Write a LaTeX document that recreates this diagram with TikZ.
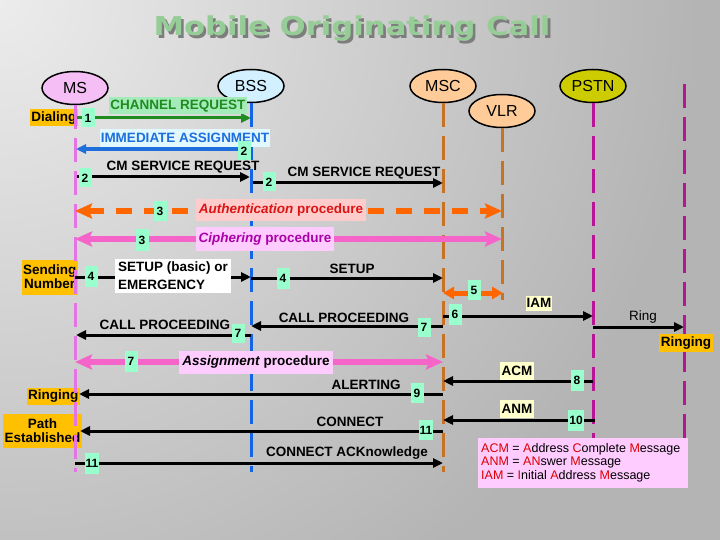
\documentclass[tikz,border=0pt]{standalone}
\usepackage{fontspec}
\setmainfont{Liberation Sans}
\newfontfamily\titlefont{DejaVu Sans}
\usetikzlibrary{arrows.meta,shapes.geometric}
\definecolor{bgA}{RGB}{236,236,236}
\definecolor{bgB}{RGB}{180,180,180}
\definecolor{mint}{RGB}{153,255,204}
\definecolor{msfill}{RGB}{245,190,245}
\definecolor{bssfill}{RGB}{210,240,255}
\definecolor{mscfill}{RGB}{255,204,153}
\definecolor{pstnfill}{RGB}{204,204,0}
\definecolor{msline}{RGB}{230,115,230}
\definecolor{bssline}{RGB}{20,100,230}
\definecolor{mscline}{RGB}{200,115,35}
\definecolor{pstnline}{RGB}{185,20,150}
\definecolor{orangearr}{RGB}{255,102,0}
\definecolor{pinkarr}{RGB}{245,100,200}
\definecolor{gold}{RGB}{255,192,0}
\definecolor{chgreen}{RGB}{30,140,30}
\definecolor{chbg}{RGB}{165,235,185}
\definecolor{iablue}{RGB}{30,110,220}
\definecolor{iabg}{RGB}{225,248,255}
\definecolor{authred}{RGB}{220,20,20}
\definecolor{authbg}{RGB}{255,204,204}
\definecolor{ciphbg}{RGB}{255,204,255}
\definecolor{ciphtxt}{RGB}{170,0,170}
\definecolor{paleyel}{RGB}{255,255,204}
\definecolor{titlegreen}{RGB}{150,205,150}
\definecolor{titleshadow}{RGB}{125,125,125}
\definecolor{legred}{RGB}{220,0,0}
\begin{document}
\begin{tikzpicture}[x=1pt,y=-1pt,
  ent/.style={ellipse, draw=black, line width=1.5pt, minimum width=66pt, minimum height=33pt, inner sep=0pt, font=\fontsize{16}{18}\selectfont},
  life/.style={line width=3pt, dash pattern=on 24pt off 9pt},
  msg/.style={line width=3pt, -{Triangle[length=10pt,width=9pt]}},
  thickarr/.style={line width=5.5pt, {Stealth[length=17pt,width=15pt,inset=3pt]}-{Stealth[length=17pt,width=15pt,inset=3pt]}},
  lbl/.style={font=\bfseries\fontsize{13.5}{16}\selectfont, inner sep=1pt},
  num/.style={fill=mint, font=\bfseries\fontsize{12}{14}\selectfont, minimum width=13pt, minimum height=19pt, inner sep=1pt},
  goldlbl/.style={fill=gold, font=\bfseries\fontsize{13.5}{16}\selectfont, inner sep=1.5pt, align=center}]
\useasboundingbox (0,0) rectangle (720,540);
% background
\fill[bgB] (0,0) rectangle (720,540);
\begin{scope}
  \clip (0,0) rectangle (720,540);
  \shade[inner color=bgA, outer color=bgB] (0,0) circle (700pt);
\end{scope}
% title with drop shadow
\node[font=\titlefont\bfseries\fontsize{26}{30}\selectfont, xscale=1.18] (title) at (352,30)
  {\rlap{\hspace{2.2pt}\raisebox{-2.5pt}{\textcolor{titleshadow}{Mobile Originating Call}}}\textcolor{titlegreen}{Mobile Originating Call}};
% entities
\node[ent, fill=msfill] (MS) at (75,88) {MS};
\node[ent, fill=bssfill] (BSS) at (251,86) {BSS};
\node[ent, fill=mscfill] (MSC) at (443,86) {MSC};
\node[ent, fill=mscfill] (VLR) at (502,111) {VLR};
\node[ent, fill=pstnfill] (PSTN) at (593,86) {PSTN};
\coordinate (EXT) at (684,84);
% gold state labels
\node[goldlbl, anchor=east, minimum height=17pt] (dial) at (78,118) {Dialing};
\node[goldlbl, anchor=east, minimum height=35pt] (send) at (78,277) {Sending\\[-2pt]Number};
\node[goldlbl, anchor=east, minimum height=17pt] (ringL) at (80,396) {Ringing};
\node[goldlbl, anchor=east, minimum height=34pt] (path) at (82,431) {Path\\[-2pt]Established};
% lifelines
\draw[life, msline] (MS.south) -- (MS |- 0,472);
\draw[life, bssline] (BSS.south) -- (BSS |- 0,472);
\draw[life, mscline] (MSC.south) -- (MSC |- 0,472);
\draw[life, mscline] (VLR.south) -- (VLR |- 0,300);
\draw[life, pstnline] (PSTN.south) -- (PSTN |- 0,440);
\draw[life, pstnline] (EXT) -- (EXT |- 0,440);
% messages
\draw[msg, chgreen] ([xshift=2pt]MS |- 0,118) -- (BSS |- 0,118);
\draw[msg, iablue, line width=4pt] (BSS |- 0,149) -- ([xshift=1pt]MS |- 0,149);
\draw[msg] ([xshift=2pt]MS |- 0,177) -- ([xshift=-1pt]BSS |- 0,177);
\draw[msg] ([xshift=2pt]BSS |- 0,183) -- (MSC |- 0,183);
\draw[thickarr, orangearr, dash pattern=on 16pt off 12pt] (MS |- 0,211) -- (VLR |- 0,211);
\draw[thickarr, pinkarr] (MS |- 0,239) -- (VLR |- 0,239);
\draw[msg] (MS |- 0,277) -- (BSS |- 0,277);
\draw[msg] (BSS |- 0,278) -- (MSC |- 0,278);
\draw[orangearr, line width=5pt, {Triangle[length=11pt,width=12pt]}-{Triangle[length=11pt,width=12pt]}] (MSC |- 0,293) -- ([xshift=1pt]VLR |- 0,293);
\draw[msg] (MSC |- 0,316) -- (PSTN |- 0,316);
\draw[msg] (PSTN |- 0,327) -- (EXT |- 0,327);
\draw[msg] (MSC |- 0,326) -- (BSS |- 0,326);
\draw[msg] (BSS |- 0,335) -- ([xshift=1pt]MS |- 0,335);
\draw[thickarr, pinkarr] (MS |- 0,362) -- (MSC |- 0,362);
\draw[msg] (PSTN |- 0,381) -- (MSC |- 0,381);
\draw[msg] (MSC |- 0,394) -- ([xshift=4pt]MS |- 0,394);
\draw[msg] ([xshift=2pt]PSTN |- 0,420) -- (MSC |- 0,420);
\draw[msg] (MSC |- 0,431) -- ([xshift=5pt]MS |- 0,431);
\draw[msg] (MS |- 0,463) -- (MSC |- 0,463);
% message labels
\node[lbl, fill=chbg, text=chgreen, minimum height=17pt] (lChan) at (178,106) {CHANNEL REQUEST};
\node[lbl, fill=iabg, text=iablue, minimum height=18pt] (lIA) at (185,138) {IMMEDIATE ASSIGNMENT};
\node[lbl] (lCM1) at (183,167) {CM SERVICE REQUEST};
\node[lbl] (lCM2) at (364,173) {CM SERVICE REQUEST};
\node[lbl, fill=authbg, text=authred, minimum height=22pt, inner xsep=3pt] (lAuth) at (281,210) {\itshape Authentication\/ \upshape procedure};
\node[lbl, fill=ciphbg, text=ciphtxt, minimum height=24pt, inner xsep=3pt] (lCiph) at (265,239) {\itshape Ciphering\/ \upshape procedure};
\node[lbl, fill=white, align=left, inner xsep=3pt, inner ysep=3pt, font=\bfseries\fontsize{13.5}{18}\selectfont] (lSetup1) at (173,276) {SETUP (basic) or\\EMERGENCY};
\node[lbl] (lSetup2) at (352,269) {SETUP};
\node[lbl, fill=paleyel, minimum height=15pt] (lIAM) at (539,303) {IAM};
\node[lbl, font=\fontsize{13.5}{16}\selectfont] (lRing) at (643,317) {Ring};
\node[goldlbl, minimum height=18pt] (ringR) at (686,343) {Ringing};
\node[lbl] (lCP1) at (344,318) {CALL PROCEEDING};
\node[lbl] (lCP2) at (165,325) {CALL PROCEEDING};
\node[lbl, fill=ciphbg, minimum height=23pt, inner xsep=3pt] (lAssign) at (256,362) {\itshape Assignment\/ \upshape procedure};
\node[lbl, fill=paleyel, minimum height=18pt, inner xsep=2pt] (lACM) at (517,371) {ACM};
\node[lbl] (lAlert) at (366,385) {ALERTING};
\node[lbl, fill=paleyel, minimum height=18pt, inner xsep=2pt] (lANM) at (517,409) {ANM};
\node[lbl] (lConn) at (350,422) {CONNECT};
\node[lbl] (lAck) at (347,453) {CONNECT ACKnowledge};
% step numbers
\node[num] (n1) at (88,118) {1};
\node[num] (n2a) at (244,151) {2};
\node[num] (n2b) at (85,178) {2};
\node[num] (n2c) at (269,182) {2};
\node[num, minimum height=20pt] (n3a) at (160,211) {3};
\node[num, minimum height=22pt] (n3b) at (142,240) {3};
\node[num, minimum height=21pt] (n4a) at (91,276) {4};
\node[num, minimum height=21pt] (n4b) at (283,278) {4};
\node[num, minimum height=20pt] (n5) at (474,290) {5};
\node[num, minimum height=21pt] (n6) at (455,314) {6};
\node[num] (n7a) at (424,327) {7};
\node[num] (n7b) at (238,333) {7};
\node[num, minimum height=21pt] (n7c) at (131,361) {7};
\node[num, minimum height=21pt] (n8) at (577,380) {8};
\node[num, minimum height=20pt] (n9) at (417,393) {9};
\node[num, minimum height=21pt] (n10) at (576,420) {10};
\node[num, minimum height=20pt] (n11a) at (426,430) {11};
\node[num, minimum height=21pt] (n11b) at (92,463) {11};
% legend
\node[fill=ciphbg, minimum width=210pt, minimum height=50pt, anchor=north west, inner sep=0pt] (legend) at (478,438) {};
\node[anchor=north west, align=left, inner sep=0pt, font=\fontsize{12.5}{13.6}\selectfont] (legtext) at (481,443)
  {\textcolor{legred}{ACM} = \textcolor{legred}{A}ddress \textcolor{legred}{C}omplete \textcolor{legred}{M}essage\\
   \textcolor{legred}{ANM} = \textcolor{legred}{AN}swer \textcolor{legred}{M}essage\\
   \textcolor{legred}{IAM} = \textcolor{legred}{I}nitial \textcolor{legred}{A}ddress \textcolor{legred}{M}essage};
\end{tikzpicture}
\end{document}
